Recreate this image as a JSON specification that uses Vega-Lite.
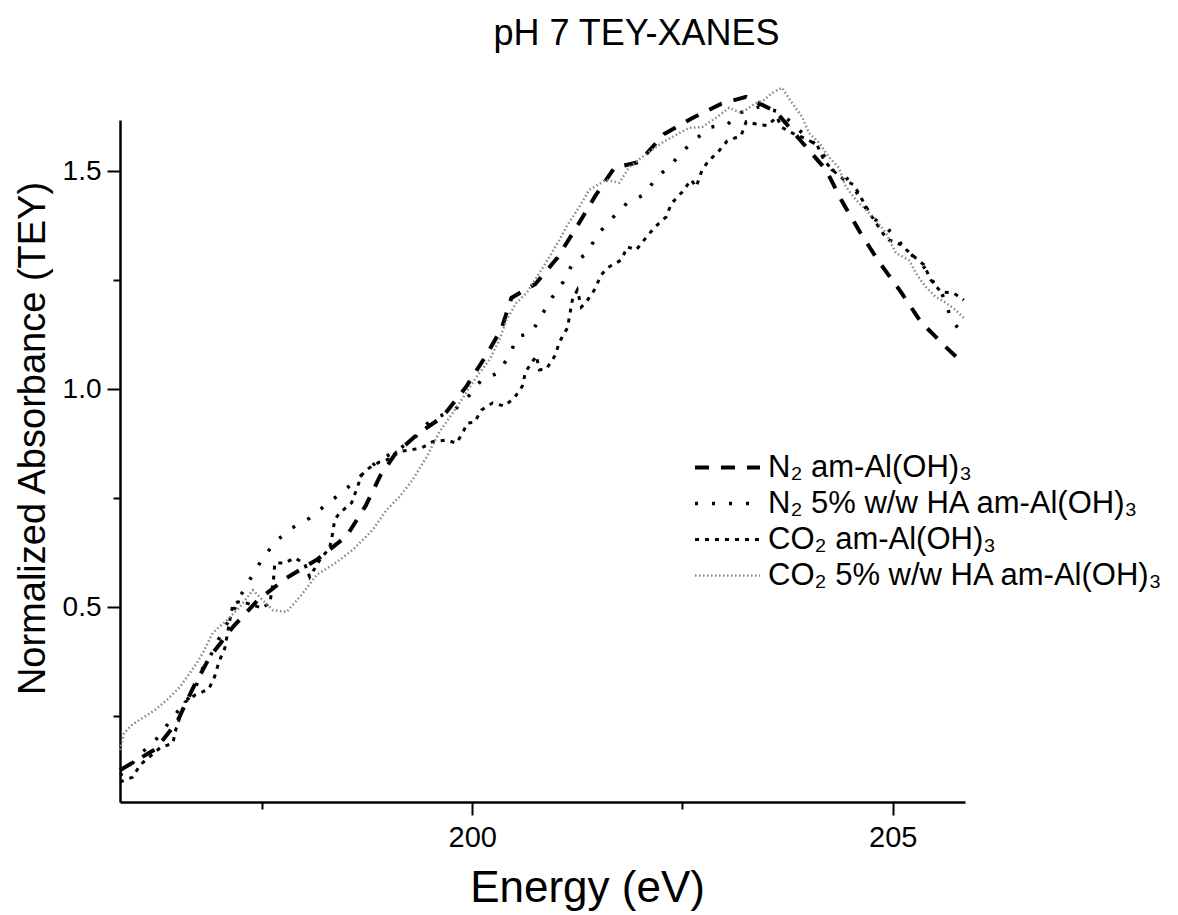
{
  "$schema": "https://vega.github.io/schema/vega-lite/v6.json",
  "width": 845,
  "height": 682,
  "autosize": {"type": "none"},
  "padding": {"left": 120, "top": 120, "right": 213, "bottom": 113},
  "background": "white",
  "config": {
    "font": "Liberation Sans",
    "view": {"stroke": null},
    "axis": {"grid": false, "domainColor": "black", "tickColor": "black", "labelColor": "black", "titleColor": "black", "labelFont": "Liberation Sans", "titleFont": "Liberation Sans", "titleFontWeight": "normal"},
    "legend": {"title": null, "orient": "none", "legendX": 592, "legendY": 332, "symbolType": "M-3,0H3", "symbolSize": 470, "labelFontSize": 31, "labelColor": "black", "labelFont": "Liberation Sans", "rowPadding": 4, "labelOffset": 25, "labelLimit": 600}
  },
  "title": {"text": "pH 7 TEY-XANES", "fontSize": 36, "fontWeight": "normal", "color": "black", "anchor": "middle", "dx": 94, "offset": 30},
  "data": {"values": [
    {"s": "N₂ am-Al(OH)₃", "x": 195.810, "y": 0.126},
    {"s": "N₂ am-Al(OH)₃", "x": 196.238, "y": 0.175},
    {"s": "N₂ am-Al(OH)₃", "x": 196.487, "y": 0.236},
    {"s": "N₂ am-Al(OH)₃", "x": 196.677, "y": 0.314},
    {"s": "N₂ am-Al(OH)₃", "x": 196.879, "y": 0.386},
    {"s": "N₂ am-Al(OH)₃", "x": 197.152, "y": 0.454},
    {"s": "N₂ am-Al(OH)₃", "x": 197.449, "y": 0.516},
    {"s": "N₂ am-Al(OH)₃", "x": 197.793, "y": 0.567},
    {"s": "N₂ am-Al(OH)₃", "x": 198.161, "y": 0.610},
    {"s": "N₂ am-Al(OH)₃", "x": 198.506, "y": 0.663},
    {"s": "N₂ am-Al(OH)₃", "x": 198.731, "y": 0.732},
    {"s": "N₂ am-Al(OH)₃", "x": 198.910, "y": 0.803},
    {"s": "N₂ am-Al(OH)₃", "x": 199.076, "y": 0.849},
    {"s": "N₂ am-Al(OH)₃", "x": 199.349, "y": 0.897},
    {"s": "N₂ am-Al(OH)₃", "x": 199.646, "y": 0.936},
    {"s": "N₂ am-Al(OH)₃", "x": 199.919, "y": 1.003},
    {"s": "N₂ am-Al(OH)₃", "x": 200.145, "y": 1.071},
    {"s": "N₂ am-Al(OH)₃", "x": 200.347, "y": 1.138},
    {"s": "N₂ am-Al(OH)₃", "x": 200.465, "y": 1.209},
    {"s": "N₂ am-Al(OH)₃", "x": 200.750, "y": 1.241},
    {"s": "N₂ am-Al(OH)₃", "x": 201.012, "y": 1.301},
    {"s": "N₂ am-Al(OH)₃", "x": 201.249, "y": 1.374},
    {"s": "N₂ am-Al(OH)₃", "x": 201.463, "y": 1.443},
    {"s": "N₂ am-Al(OH)₃", "x": 201.689, "y": 1.507},
    {"s": "N₂ am-Al(OH)₃", "x": 201.986, "y": 1.521},
    {"s": "N₂ am-Al(OH)₃", "x": 202.282, "y": 1.585},
    {"s": "N₂ am-Al(OH)₃", "x": 202.603, "y": 1.620},
    {"s": "N₂ am-Al(OH)₃", "x": 202.959, "y": 1.654},
    {"s": "N₂ am-Al(OH)₃", "x": 203.256, "y": 1.670},
    {"s": "N₂ am-Al(OH)₃", "x": 203.612, "y": 1.636},
    {"s": "N₂ am-Al(OH)₃", "x": 203.886, "y": 1.574},
    {"s": "N₂ am-Al(OH)₃", "x": 204.206, "y": 1.503},
    {"s": "N₂ am-Al(OH)₃", "x": 204.396, "y": 1.431},
    {"s": "N₂ am-Al(OH)₃", "x": 204.610, "y": 1.360},
    {"s": "N₂ am-Al(OH)₃", "x": 204.836, "y": 1.292},
    {"s": "N₂ am-Al(OH)₃", "x": 205.097, "y": 1.223},
    {"s": "N₂ am-Al(OH)₃", "x": 205.334, "y": 1.154},
    {"s": "N₂ am-Al(OH)₃", "x": 205.655, "y": 1.092},
    {"s": "N₂ am-Al(OH)₃", "x": 205.822, "y": 1.062},

    {"s": "N₂ 5% w/w HA am-Al(OH)₃", "x": 195.810, "y": 0.115},
    {"s": "N₂ 5% w/w HA am-Al(OH)₃", "x": 195.905, "y": 0.126},
    {"s": "N₂ 5% w/w HA am-Al(OH)₃", "x": 196.024, "y": 0.161},
    {"s": "N₂ 5% w/w HA am-Al(OH)₃", "x": 196.190, "y": 0.184},
    {"s": "N₂ 5% w/w HA am-Al(OH)₃", "x": 196.380, "y": 0.232},
    {"s": "N₂ 5% w/w HA am-Al(OH)₃", "x": 196.582, "y": 0.282},
    {"s": "N₂ 5% w/w HA am-Al(OH)₃", "x": 196.689, "y": 0.305},
    {"s": "N₂ 5% w/w HA am-Al(OH)₃", "x": 196.784, "y": 0.356},
    {"s": "N₂ 5% w/w HA am-Al(OH)₃", "x": 196.903, "y": 0.395},
    {"s": "N₂ 5% w/w HA am-Al(OH)₃", "x": 197.021, "y": 0.441},
    {"s": "N₂ 5% w/w HA am-Al(OH)₃", "x": 197.140, "y": 0.482},
    {"s": "N₂ 5% w/w HA am-Al(OH)₃", "x": 197.235, "y": 0.523},
    {"s": "N₂ 5% w/w HA am-Al(OH)₃", "x": 197.366, "y": 0.567},
    {"s": "N₂ 5% w/w HA am-Al(OH)₃", "x": 197.496, "y": 0.608},
    {"s": "N₂ 5% w/w HA am-Al(OH)₃", "x": 197.651, "y": 0.649},
    {"s": "N₂ 5% w/w HA am-Al(OH)₃", "x": 197.853, "y": 0.681},
    {"s": "N₂ 5% w/w HA am-Al(OH)₃", "x": 198.066, "y": 0.704},
    {"s": "N₂ 5% w/w HA am-Al(OH)₃", "x": 198.268, "y": 0.736},
    {"s": "N₂ 5% w/w HA am-Al(OH)₃", "x": 198.470, "y": 0.766},
    {"s": "N₂ 5% w/w HA am-Al(OH)₃", "x": 198.684, "y": 0.803},
    {"s": "N₂ 5% w/w HA am-Al(OH)₃", "x": 198.886, "y": 0.837},
    {"s": "N₂ 5% w/w HA am-Al(OH)₃", "x": 199.100, "y": 0.858},
    {"s": "N₂ 5% w/w HA am-Al(OH)₃", "x": 199.314, "y": 0.888},
    {"s": "N₂ 5% w/w HA am-Al(OH)₃", "x": 199.504, "y": 0.929},
    {"s": "N₂ 5% w/w HA am-Al(OH)₃", "x": 199.789, "y": 0.952},
    {"s": "N₂ 5% w/w HA am-Al(OH)₃", "x": 199.967, "y": 0.986},
    {"s": "N₂ 5% w/w HA am-Al(OH)₃", "x": 200.109, "y": 1.021},
    {"s": "N₂ 5% w/w HA am-Al(OH)₃", "x": 200.311, "y": 1.037},
    {"s": "N₂ 5% w/w HA am-Al(OH)₃", "x": 200.442, "y": 1.078},
    {"s": "N₂ 5% w/w HA am-Al(OH)₃", "x": 200.537, "y": 1.120},
    {"s": "N₂ 5% w/w HA am-Al(OH)₃", "x": 200.703, "y": 1.129},
    {"s": "N₂ 5% w/w HA am-Al(OH)₃", "x": 200.834, "y": 1.172},
    {"s": "N₂ 5% w/w HA am-Al(OH)₃", "x": 200.953, "y": 1.211},
    {"s": "N₂ 5% w/w HA am-Al(OH)₃", "x": 201.083, "y": 1.246},
    {"s": "N₂ 5% w/w HA am-Al(OH)₃", "x": 201.190, "y": 1.287},
    {"s": "N₂ 5% w/w HA am-Al(OH)₃", "x": 201.368, "y": 1.312},
    {"s": "N₂ 5% w/w HA am-Al(OH)₃", "x": 201.487, "y": 1.354},
    {"s": "N₂ 5% w/w HA am-Al(OH)₃", "x": 201.665, "y": 1.392},
    {"s": "N₂ 5% w/w HA am-Al(OH)₃", "x": 201.843, "y": 1.427},
    {"s": "N₂ 5% w/w HA am-Al(OH)₃", "x": 202.057, "y": 1.447},
    {"s": "N₂ 5% w/w HA am-Al(OH)₃", "x": 202.188, "y": 1.486},
    {"s": "N₂ 5% w/w HA am-Al(OH)₃", "x": 202.330, "y": 1.507},
    {"s": "N₂ 5% w/w HA am-Al(OH)₃", "x": 202.496, "y": 1.544},
    {"s": "N₂ 5% w/w HA am-Al(OH)₃", "x": 202.674, "y": 1.576},
    {"s": "N₂ 5% w/w HA am-Al(OH)₃", "x": 202.841, "y": 1.601},
    {"s": "N₂ 5% w/w HA am-Al(OH)₃", "x": 203.031, "y": 1.606},
    {"s": "N₂ 5% w/w HA am-Al(OH)₃", "x": 203.173, "y": 1.633},
    {"s": "N₂ 5% w/w HA am-Al(OH)₃", "x": 203.411, "y": 1.647},
    {"s": "N₂ 5% w/w HA am-Al(OH)₃", "x": 203.648, "y": 1.636},
    {"s": "N₂ 5% w/w HA am-Al(OH)₃", "x": 203.827, "y": 1.606},
    {"s": "N₂ 5% w/w HA am-Al(OH)₃", "x": 203.969, "y": 1.578},
    {"s": "N₂ 5% w/w HA am-Al(OH)₃", "x": 204.124, "y": 1.555},
    {"s": "N₂ 5% w/w HA am-Al(OH)₃", "x": 204.278, "y": 1.503},
    {"s": "N₂ 5% w/w HA am-Al(OH)₃", "x": 204.444, "y": 1.486},
    {"s": "N₂ 5% w/w HA am-Al(OH)₃", "x": 204.575, "y": 1.450},
    {"s": "N₂ 5% w/w HA am-Al(OH)₃", "x": 204.741, "y": 1.395},
    {"s": "N₂ 5% w/w HA am-Al(OH)₃", "x": 204.919, "y": 1.372},
    {"s": "N₂ 5% w/w HA am-Al(OH)₃", "x": 205.038, "y": 1.347},
    {"s": "N₂ 5% w/w HA am-Al(OH)₃", "x": 205.192, "y": 1.312},
    {"s": "N₂ 5% w/w HA am-Al(OH)₃", "x": 205.334, "y": 1.292},
    {"s": "N₂ 5% w/w HA am-Al(OH)₃", "x": 205.465, "y": 1.250},
    {"s": "N₂ 5% w/w HA am-Al(OH)₃", "x": 205.584, "y": 1.220},
    {"s": "N₂ 5% w/w HA am-Al(OH)₃", "x": 205.703, "y": 1.158},
    {"s": "N₂ 5% w/w HA am-Al(OH)₃", "x": 205.857, "y": 1.120},

    {"s": "CO₂ am-Al(OH)₃", "x": 195.810, "y": 0.099},
    {"s": "CO₂ am-Al(OH)₃", "x": 195.964, "y": 0.110},
    {"s": "CO₂ am-Al(OH)₃", "x": 196.048, "y": 0.138},
    {"s": "CO₂ am-Al(OH)₃", "x": 196.190, "y": 0.161},
    {"s": "CO₂ am-Al(OH)₃", "x": 196.285, "y": 0.177},
    {"s": "CO₂ am-Al(OH)₃", "x": 196.439, "y": 0.188},
    {"s": "CO₂ am-Al(OH)₃", "x": 196.475, "y": 0.220},
    {"s": "CO₂ am-Al(OH)₃", "x": 196.523, "y": 0.248},
    {"s": "CO₂ am-Al(OH)₃", "x": 196.582, "y": 0.282},
    {"s": "CO₂ am-Al(OH)₃", "x": 196.701, "y": 0.298},
    {"s": "CO₂ am-Al(OH)₃", "x": 196.867, "y": 0.312},
    {"s": "CO₂ am-Al(OH)₃", "x": 196.938, "y": 0.342},
    {"s": "CO₂ am-Al(OH)₃", "x": 196.986, "y": 0.374},
    {"s": "CO₂ am-Al(OH)₃", "x": 197.057, "y": 0.406},
    {"s": "CO₂ am-Al(OH)₃", "x": 197.116, "y": 0.470},
    {"s": "CO₂ am-Al(OH)₃", "x": 197.152, "y": 0.505},
    {"s": "CO₂ am-Al(OH)₃", "x": 197.211, "y": 0.512},
    {"s": "CO₂ am-Al(OH)₃", "x": 197.318, "y": 0.509},
    {"s": "CO₂ am-Al(OH)₃", "x": 197.496, "y": 0.498},
    {"s": "CO₂ am-Al(OH)₃", "x": 197.591, "y": 0.509},
    {"s": "CO₂ am-Al(OH)₃", "x": 197.615, "y": 0.535},
    {"s": "CO₂ am-Al(OH)₃", "x": 197.639, "y": 0.569},
    {"s": "CO₂ am-Al(OH)₃", "x": 197.651, "y": 0.601},
    {"s": "CO₂ am-Al(OH)₃", "x": 197.770, "y": 0.601},
    {"s": "CO₂ am-Al(OH)₃", "x": 197.888, "y": 0.613},
    {"s": "CO₂ am-Al(OH)₃", "x": 198.007, "y": 0.599},
    {"s": "CO₂ am-Al(OH)₃", "x": 198.066, "y": 0.569},
    {"s": "CO₂ am-Al(OH)₃", "x": 198.185, "y": 0.608},
    {"s": "CO₂ am-Al(OH)₃", "x": 198.304, "y": 0.636},
    {"s": "CO₂ am-Al(OH)₃", "x": 198.340, "y": 0.670},
    {"s": "CO₂ am-Al(OH)₃", "x": 198.363, "y": 0.700},
    {"s": "CO₂ am-Al(OH)₃", "x": 198.423, "y": 0.716},
    {"s": "CO₂ am-Al(OH)₃", "x": 198.565, "y": 0.739},
    {"s": "CO₂ am-Al(OH)₃", "x": 198.625, "y": 0.771},
    {"s": "CO₂ am-Al(OH)₃", "x": 198.684, "y": 0.803},
    {"s": "CO₂ am-Al(OH)₃", "x": 198.755, "y": 0.817},
    {"s": "CO₂ am-Al(OH)₃", "x": 198.898, "y": 0.833},
    {"s": "CO₂ am-Al(OH)₃", "x": 199.017, "y": 0.840},
    {"s": "CO₂ am-Al(OH)₃", "x": 199.100, "y": 0.856},
    {"s": "CO₂ am-Al(OH)₃", "x": 199.254, "y": 0.860},
    {"s": "CO₂ am-Al(OH)₃", "x": 199.397, "y": 0.865},
    {"s": "CO₂ am-Al(OH)₃", "x": 199.527, "y": 0.879},
    {"s": "CO₂ am-Al(OH)₃", "x": 199.694, "y": 0.883},
    {"s": "CO₂ am-Al(OH)₃", "x": 199.812, "y": 0.876},
    {"s": "CO₂ am-Al(OH)₃", "x": 199.883, "y": 0.899},
    {"s": "CO₂ am-Al(OH)₃", "x": 199.943, "y": 0.922},
    {"s": "CO₂ am-Al(OH)₃", "x": 200.026, "y": 0.924},
    {"s": "CO₂ am-Al(OH)₃", "x": 200.109, "y": 0.952},
    {"s": "CO₂ am-Al(OH)₃", "x": 200.240, "y": 0.968},
    {"s": "CO₂ am-Al(OH)₃", "x": 200.382, "y": 0.961},
    {"s": "CO₂ am-Al(OH)₃", "x": 200.501, "y": 0.980},
    {"s": "CO₂ am-Al(OH)₃", "x": 200.596, "y": 1.007},
    {"s": "CO₂ am-Al(OH)₃", "x": 200.632, "y": 1.039},
    {"s": "CO₂ am-Al(OH)₃", "x": 200.762, "y": 1.076},
    {"s": "CO₂ am-Al(OH)₃", "x": 200.798, "y": 1.044},
    {"s": "CO₂ am-Al(OH)₃", "x": 200.881, "y": 1.046},
    {"s": "CO₂ am-Al(OH)₃", "x": 200.988, "y": 1.078},
    {"s": "CO₂ am-Al(OH)₃", "x": 201.036, "y": 1.108},
    {"s": "CO₂ am-Al(OH)₃", "x": 201.131, "y": 1.140},
    {"s": "CO₂ am-Al(OH)₃", "x": 201.190, "y": 1.204},
    {"s": "CO₂ am-Al(OH)₃", "x": 201.249, "y": 1.227},
    {"s": "CO₂ am-Al(OH)₃", "x": 201.297, "y": 1.188},
    {"s": "CO₂ am-Al(OH)₃", "x": 201.356, "y": 1.200},
    {"s": "CO₂ am-Al(OH)₃", "x": 201.451, "y": 1.227},
    {"s": "CO₂ am-Al(OH)₃", "x": 201.534, "y": 1.262},
    {"s": "CO₂ am-Al(OH)₃", "x": 201.606, "y": 1.278},
    {"s": "CO₂ am-Al(OH)₃", "x": 201.772, "y": 1.296},
    {"s": "CO₂ am-Al(OH)₃", "x": 201.843, "y": 1.326},
    {"s": "CO₂ am-Al(OH)₃", "x": 201.950, "y": 1.319},
    {"s": "CO₂ am-Al(OH)₃", "x": 202.045, "y": 1.342},
    {"s": "CO₂ am-Al(OH)₃", "x": 202.164, "y": 1.370},
    {"s": "CO₂ am-Al(OH)₃", "x": 202.306, "y": 1.395},
    {"s": "CO₂ am-Al(OH)₃", "x": 202.366, "y": 1.425},
    {"s": "CO₂ am-Al(OH)₃", "x": 202.496, "y": 1.452},
    {"s": "CO₂ am-Al(OH)₃", "x": 202.603, "y": 1.480},
    {"s": "CO₂ am-Al(OH)₃", "x": 202.663, "y": 1.464},
    {"s": "CO₂ am-Al(OH)₃", "x": 202.734, "y": 1.503},
    {"s": "CO₂ am-Al(OH)₃", "x": 202.817, "y": 1.525},
    {"s": "CO₂ am-Al(OH)₃", "x": 202.912, "y": 1.541},
    {"s": "CO₂ am-Al(OH)₃", "x": 203.031, "y": 1.569},
    {"s": "CO₂ am-Al(OH)₃", "x": 203.197, "y": 1.581},
    {"s": "CO₂ am-Al(OH)₃", "x": 203.257, "y": 1.613},
    {"s": "CO₂ am-Al(OH)₃", "x": 203.375, "y": 1.608},
    {"s": "CO₂ am-Al(OH)₃", "x": 203.506, "y": 1.604},
    {"s": "CO₂ am-Al(OH)₃", "x": 203.625, "y": 1.624},
    {"s": "CO₂ am-Al(OH)₃", "x": 203.672, "y": 1.601},
    {"s": "CO₂ am-Al(OH)₃", "x": 203.827, "y": 1.585},
    {"s": "CO₂ am-Al(OH)₃", "x": 203.969, "y": 1.574},
    {"s": "CO₂ am-Al(OH)₃", "x": 204.100, "y": 1.560},
    {"s": "CO₂ am-Al(OH)₃", "x": 204.183, "y": 1.525},
    {"s": "CO₂ am-Al(OH)₃", "x": 204.278, "y": 1.503},
    {"s": "CO₂ am-Al(OH)₃", "x": 204.421, "y": 1.480},
    {"s": "CO₂ am-Al(OH)₃", "x": 204.539, "y": 1.468},
    {"s": "CO₂ am-Al(OH)₃", "x": 204.658, "y": 1.427},
    {"s": "CO₂ am-Al(OH)₃", "x": 204.753, "y": 1.395},
    {"s": "CO₂ am-Al(OH)₃", "x": 204.896, "y": 1.354},
    {"s": "CO₂ am-Al(OH)₃", "x": 204.955, "y": 1.342},
    {"s": "CO₂ am-Al(OH)₃", "x": 205.097, "y": 1.331},
    {"s": "CO₂ am-Al(OH)₃", "x": 205.228, "y": 1.308},
    {"s": "CO₂ am-Al(OH)₃", "x": 205.371, "y": 1.285},
    {"s": "CO₂ am-Al(OH)₃", "x": 205.454, "y": 1.250},
    {"s": "CO₂ am-Al(OH)₃", "x": 205.572, "y": 1.223},
    {"s": "CO₂ am-Al(OH)₃", "x": 205.727, "y": 1.220},
    {"s": "CO₂ am-Al(OH)₃", "x": 205.846, "y": 1.204},

    {"s": "CO₂ 5% w/w HA am-Al(OH)₃", "x": 195.810, "y": 0.172},
    {"s": "CO₂ 5% w/w HA am-Al(OH)₃", "x": 195.858, "y": 0.211},
    {"s": "CO₂ 5% w/w HA am-Al(OH)₃", "x": 195.953, "y": 0.230},
    {"s": "CO₂ 5% w/w HA am-Al(OH)₃", "x": 196.083, "y": 0.246},
    {"s": "CO₂ 5% w/w HA am-Al(OH)₃", "x": 196.226, "y": 0.264},
    {"s": "CO₂ 5% w/w HA am-Al(OH)₃", "x": 196.368, "y": 0.287},
    {"s": "CO₂ 5% w/w HA am-Al(OH)₃", "x": 196.523, "y": 0.317},
    {"s": "CO₂ 5% w/w HA am-Al(OH)₃", "x": 196.641, "y": 0.349},
    {"s": "CO₂ 5% w/w HA am-Al(OH)₃", "x": 196.724, "y": 0.372},
    {"s": "CO₂ 5% w/w HA am-Al(OH)₃", "x": 196.796, "y": 0.395},
    {"s": "CO₂ 5% w/w HA am-Al(OH)₃", "x": 196.914, "y": 0.441},
    {"s": "CO₂ 5% w/w HA am-Al(OH)₃", "x": 197.081, "y": 0.470},
    {"s": "CO₂ 5% w/w HA am-Al(OH)₃", "x": 197.235, "y": 0.500},
    {"s": "CO₂ 5% w/w HA am-Al(OH)₃", "x": 197.390, "y": 0.539},
    {"s": "CO₂ 5% w/w HA am-Al(OH)₃", "x": 197.508, "y": 0.516},
    {"s": "CO₂ 5% w/w HA am-Al(OH)₃", "x": 197.627, "y": 0.493},
    {"s": "CO₂ 5% w/w HA am-Al(OH)₃", "x": 197.793, "y": 0.489},
    {"s": "CO₂ 5% w/w HA am-Al(OH)₃", "x": 197.948, "y": 0.523},
    {"s": "CO₂ 5% w/w HA am-Al(OH)₃", "x": 198.150, "y": 0.574},
    {"s": "CO₂ 5% w/w HA am-Al(OH)₃", "x": 198.387, "y": 0.603},
    {"s": "CO₂ 5% w/w HA am-Al(OH)₃", "x": 198.577, "y": 0.631},
    {"s": "CO₂ 5% w/w HA am-Al(OH)₃", "x": 198.815, "y": 0.677},
    {"s": "CO₂ 5% w/w HA am-Al(OH)₃", "x": 198.981, "y": 0.723},
    {"s": "CO₂ 5% w/w HA am-Al(OH)₃", "x": 199.135, "y": 0.753},
    {"s": "CO₂ 5% w/w HA am-Al(OH)₃", "x": 199.290, "y": 0.792},
    {"s": "CO₂ 5% w/w HA am-Al(OH)₃", "x": 199.456, "y": 0.844},
    {"s": "CO₂ 5% w/w HA am-Al(OH)₃", "x": 199.610, "y": 0.902},
    {"s": "CO₂ 5% w/w HA am-Al(OH)₃", "x": 199.753, "y": 0.941},
    {"s": "CO₂ 5% w/w HA am-Al(OH)₃", "x": 199.872, "y": 0.975},
    {"s": "CO₂ 5% w/w HA am-Al(OH)₃", "x": 200.050, "y": 1.028},
    {"s": "CO₂ 5% w/w HA am-Al(OH)₃", "x": 200.204, "y": 1.067},
    {"s": "CO₂ 5% w/w HA am-Al(OH)₃", "x": 200.323, "y": 1.113},
    {"s": "CO₂ 5% w/w HA am-Al(OH)₃", "x": 200.406, "y": 1.158},
    {"s": "CO₂ 5% w/w HA am-Al(OH)₃", "x": 200.525, "y": 1.198},
    {"s": "CO₂ 5% w/w HA am-Al(OH)₃", "x": 200.644, "y": 1.220},
    {"s": "CO₂ 5% w/w HA am-Al(OH)₃", "x": 200.798, "y": 1.266},
    {"s": "CO₂ 5% w/w HA am-Al(OH)₃", "x": 200.917, "y": 1.303},
    {"s": "CO₂ 5% w/w HA am-Al(OH)₃", "x": 201.036, "y": 1.342},
    {"s": "CO₂ 5% w/w HA am-Al(OH)₃", "x": 201.119, "y": 1.372},
    {"s": "CO₂ 5% w/w HA am-Al(OH)₃", "x": 201.273, "y": 1.418},
    {"s": "CO₂ 5% w/w HA am-Al(OH)₃", "x": 201.392, "y": 1.457},
    {"s": "CO₂ 5% w/w HA am-Al(OH)₃", "x": 201.594, "y": 1.480},
    {"s": "CO₂ 5% w/w HA am-Al(OH)₃", "x": 201.748, "y": 1.473},
    {"s": "CO₂ 5% w/w HA am-Al(OH)₃", "x": 201.867, "y": 1.509},
    {"s": "CO₂ 5% w/w HA am-Al(OH)₃", "x": 202.104, "y": 1.544},
    {"s": "CO₂ 5% w/w HA am-Al(OH)₃", "x": 202.259, "y": 1.565},
    {"s": "CO₂ 5% w/w HA am-Al(OH)₃", "x": 202.425, "y": 1.583},
    {"s": "CO₂ 5% w/w HA am-Al(OH)₃", "x": 202.580, "y": 1.599},
    {"s": "CO₂ 5% w/w HA am-Al(OH)₃", "x": 202.734, "y": 1.601},
    {"s": "CO₂ 5% w/w HA am-Al(OH)₃", "x": 202.900, "y": 1.622},
    {"s": "CO₂ 5% w/w HA am-Al(OH)₃", "x": 203.055, "y": 1.645},
    {"s": "CO₂ 5% w/w HA am-Al(OH)₃", "x": 203.197, "y": 1.633},
    {"s": "CO₂ 5% w/w HA am-Al(OH)₃", "x": 203.375, "y": 1.656},
    {"s": "CO₂ 5% w/w HA am-Al(OH)₃", "x": 203.470, "y": 1.663},
    {"s": "CO₂ 5% w/w HA am-Al(OH)₃", "x": 203.565, "y": 1.679},
    {"s": "CO₂ 5% w/w HA am-Al(OH)₃", "x": 203.684, "y": 1.691},
    {"s": "CO₂ 5% w/w HA am-Al(OH)₃", "x": 203.803, "y": 1.656},
    {"s": "CO₂ 5% w/w HA am-Al(OH)₃", "x": 203.922, "y": 1.624},
    {"s": "CO₂ 5% w/w HA am-Al(OH)₃", "x": 204.005, "y": 1.587},
    {"s": "CO₂ 5% w/w HA am-Al(OH)₃", "x": 204.124, "y": 1.565},
    {"s": "CO₂ 5% w/w HA am-Al(OH)₃", "x": 204.242, "y": 1.532},
    {"s": "CO₂ 5% w/w HA am-Al(OH)₃", "x": 204.361, "y": 1.507},
    {"s": "CO₂ 5% w/w HA am-Al(OH)₃", "x": 204.444, "y": 1.464},
    {"s": "CO₂ 5% w/w HA am-Al(OH)₃", "x": 204.563, "y": 1.434},
    {"s": "CO₂ 5% w/w HA am-Al(OH)₃", "x": 204.682, "y": 1.411},
    {"s": "CO₂ 5% w/w HA am-Al(OH)₃", "x": 204.801, "y": 1.388},
    {"s": "CO₂ 5% w/w HA am-Al(OH)₃", "x": 204.919, "y": 1.358},
    {"s": "CO₂ 5% w/w HA am-Al(OH)₃", "x": 205.038, "y": 1.312},
    {"s": "CO₂ 5% w/w HA am-Al(OH)₃", "x": 205.192, "y": 1.296},
    {"s": "CO₂ 5% w/w HA am-Al(OH)₃", "x": 205.276, "y": 1.266},
    {"s": "CO₂ 5% w/w HA am-Al(OH)₃", "x": 205.394, "y": 1.234},
    {"s": "CO₂ 5% w/w HA am-Al(OH)₃", "x": 205.513, "y": 1.211},
    {"s": "CO₂ 5% w/w HA am-Al(OH)₃", "x": 205.632, "y": 1.198},
    {"s": "CO₂ 5% w/w HA am-Al(OH)₃", "x": 205.751, "y": 1.181},
    {"s": "CO₂ 5% w/w HA am-Al(OH)₃", "x": 205.846, "y": 1.163}
  ]},
  "mark": {"type": "line", "clip": false, "strokeCap": "butt"},
  "encoding": {
    "x": {
      "field": "x", "type": "quantitative",
      "scale": {"domain": [195.81, 205.86], "nice": false, "zero": false},
      "axis": {
        "values": [197.5, 200, 202.5, 205],
        "labelExpr": "datum.value % 5 === 0 ? format(datum.value, 'd') : ''",
        "tickSize": {"condition": {"test": "datum.value % 5 === 0", "value": 13}, "value": 7},
        "tickWidth": 2, "domainWidth": 2.5,
        "labelFontSize": 29, "labelPadding": 8,
        "title": "Energy (eV)", "titleFontSize": 44,
        "titleX": 467, "titleY": 86, "titleBaseline": "middle", "titleAlign": "center"
      }
    },
    "y": {
      "field": "y", "type": "quantitative",
      "scale": {"domain": [0.053, 1.617], "nice": false, "zero": false},
      "axis": {
        "values": [0.25, 0.5, 0.75, 1, 1.25, 1.5],
        "labelExpr": "datum.value % 0.5 === 0 ? format(datum.value, '.1f') : ''",
        "tickSize": {"condition": {"test": "datum.value % 0.5 === 0", "value": 13}, "value": 7},
        "tickWidth": 2, "domainWidth": 2.5,
        "labelFontSize": 28, "labelPadding": 6,
        "title": "Normalized Absorbance (TEY)", "titleFontSize": 38,
        "titleAngle": -90, "titleX": -87, "titleY": 318, "titleBaseline": "middle", "titleAlign": "center"
      }
    },
    "color": {
      "field": "s", "type": "nominal",
      "scale": {"domain": ["N₂ am-Al(OH)₃", "N₂ 5% w/w HA am-Al(OH)₃", "CO₂ am-Al(OH)₃", "CO₂ 5% w/w HA am-Al(OH)₃"], "range": ["#000000", "#000000", "#000000", "#8a8a8a"]}
    },
    "strokeDash": {
      "field": "s", "type": "nominal",
      "scale": {"domain": ["N₂ am-Al(OH)₃", "N₂ 5% w/w HA am-Al(OH)₃", "CO₂ am-Al(OH)₃", "CO₂ 5% w/w HA am-Al(OH)₃"], "range": [[14, 12], [3, 14], [4, 6], [1.5, 2.5]]}
    },
    "strokeWidth": {
      "field": "s", "type": "nominal",
      "scale": {"domain": ["N₂ am-Al(OH)₃", "N₂ 5% w/w HA am-Al(OH)₃", "CO₂ am-Al(OH)₃", "CO₂ 5% w/w HA am-Al(OH)₃"], "range": [4, 2.5, 4, 1]}
    }
  }
}
